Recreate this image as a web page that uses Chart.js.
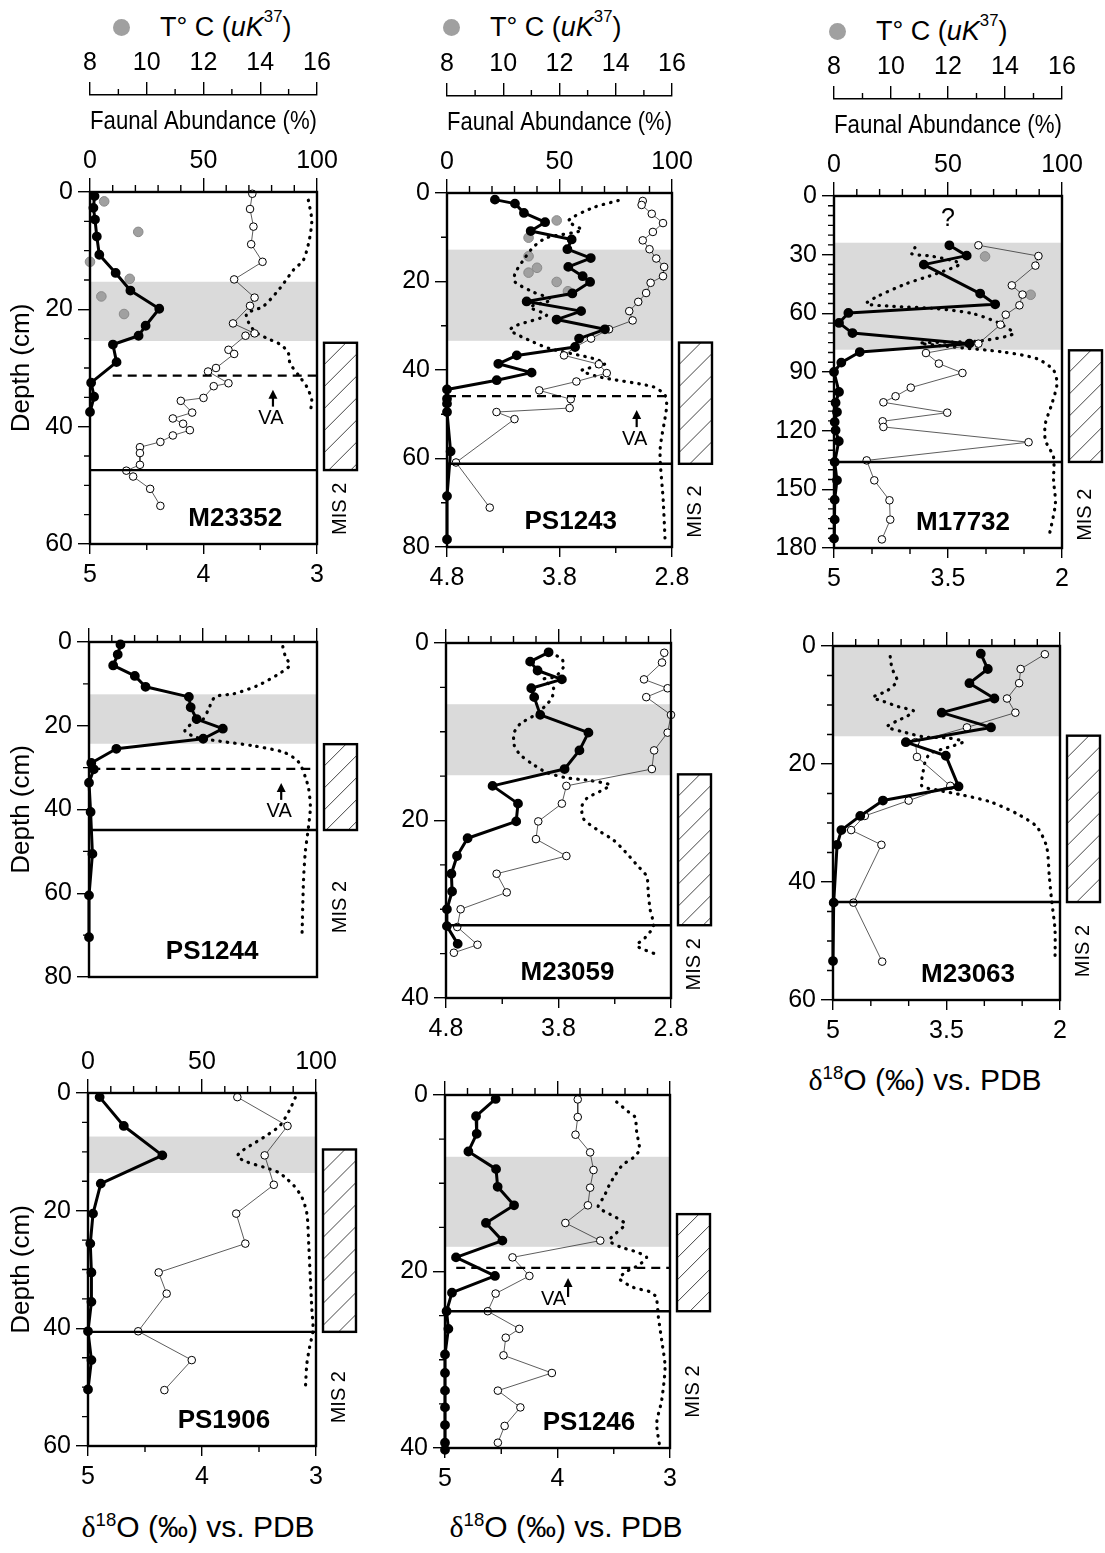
<!DOCTYPE html>
<html>
<head>
<meta charset="utf-8">
<title>Core profiles</title>
<script src="https://cdn.jsdelivr.net/npm/chart.js@4.4.0/dist/chart.umd.min.js"></script>
<style>
  body { margin: 0; background: #fff; }
  #page { position: relative; width: 1105px; height: 1553px; overflow: hidden;
          font-family: 'Liberation Sans', Arial, sans-serif; color: #000; }
  #page canvas { position: absolute; }
  .key { position: absolute; display: flex; align-items: center; height: 30px;
         font-size: 27px; white-space: nowrap; }
  .key .dot { width: 17px; height: 17px; border-radius: 50%; background: #a0a0a0;
              margin-right: 30px; flex: none; }
  .iso { position: absolute; transform: translate(-50%, -50%); font-size: 30px; white-space: nowrap; }
  .sup { font-size: 62%; position: relative; top: -0.6em; }
  .delta { font-family: 'Liberation Serif', serif; }
</style>
</head>
<body>
<div id="page">
  <div class="key" style="left:113px; top:12px"><span class="dot"></span>T° C (<i>uK</i><span class="sup">37</span>)</div>
  <div class="key" style="left:443px; top:12px"><span class="dot"></span>T° C (<i>uK</i><span class="sup">37</span>)</div>
  <div class="key" style="left:829px; top:16px"><span class="dot"></span>T° C (<i>uK</i><span class="sup">37</span>)</div>
  <div class="iso" style="left:925px; top:1080px"><span class="delta">δ</span><span class="sup">18</span>O (‰) vs. PDB</div>
  <div class="iso" style="left:198px; top:1527px"><span class="delta">δ</span><span class="sup">18</span>O (‰) vs. PDB</div>
  <div class="iso" style="left:566px; top:1527px"><span class="delta">δ</span><span class="sup">18</span>O (‰) vs. PDB</div>
</div>
<script>
// ---- cores and axes ----
const coreNames = ['M23352', 'PS1243', 'M17732', 'PS1244', 'M23059', 'M23063', 'PS1906', 'PS1246'];
const depthMax = [60, 80, 180, 80, 40, 60, 60, 40];
const depthTicks = [
  [0, 20, 40, 60], [0, 20, 40, 60, 80], [0, 30, 60, 90, 120, 150, 180], [0, 20, 40, 60, 80],
  [0, 20, 40], [0, 20, 40, 60], [0, 20, 40, 60], [0, 20, 40]
];
const depthMinor = [5, 10, 5, 10, 5, 5, 5, 5];
const isoRange = [[3, 5], [2.8, 4.8], [2, 5], [3, 5], [2.8, 4.8], [2, 5], [3, 5], [3, 5]];
const isoTicks = [
  ['5', '4', '3'], ['4.8', '3.8', '2.8'], ['5', '3.5', '2'], null,
  ['4.8', '3.8', '2.8'], ['5', '3.5', '2'], ['5', '4', '3'], ['5', '4', '3']
];
const abundTicks = [0, 50, 100];
const tempTicks = [8, 10, 12, 14, 16];

// depth (cm) of the grey interval, the MIS 2 box and the VA level
const shadeTop = [15.3, 12.8, 23.9, 12.5, 6.9, 0, 7.4, 7.0];
const shadeBase = [25.4, 33.4, 78.6, 24.3, 14.9, 15.3, 13.6, 17.2];
const misTop = [25.7, 33.8, 78.9, 24.4, 14.8, 15.2, 9.6, 13.5];
const misBase = [47.4, 61.2, 136, 44.9, 31.8, 43.4, 40.6, 24.5];
const misLabelDepth = [54, 72, 163, 63.3, 36.2, 51.7, 51.7, 33.6];
const vaDepth = [31.3, 45.9, null, 30.3, null, null, null, 19.6];
const vaFrom = [10, 0, null, 1, null, null, null, 5];        // % where the VA line starts
const vaArrowAt = [80.6, 84.3, null, 84.3, null, null, null, 54.7];
const nameAt = [64, 55, 56.6, 54, 54, 59.5, 59.6, 64];      // % position of the core name
const questionAt = [null, null, [50, 11.6], null, null, null, null, null];

// ---- series: [value, depth cm] ----
// subpolar fauna (%), N. pachyderma sin. (%), d18O (permil), Uk37 SST (deg C)
const m23352Subpolar = [[2,0.7],[1.5,2.7],[2.2,4.7],[3,7.6],[4.1,10.7],[11.3,13.8],[17.8,16.8],[30.5,19.9],[24.5,22.8],[21.4,24.5],[10.1,26],[11.7,29],[0.5,32.5],[1.8,34.9],[0,37.5]];
const m23352Npsin = [[96.2,1.4],[97.7,4.8],[96.6,8.2],[94,11.6],[89.6,13.3],[83.7,16.4],[76.3,19.5],[69,20.7],[69.7,22.1],[72.7,23.8],[77.8,24.9],[84.4,26.1],[87.4,27.5],[88.1,29.2],[91.8,31.2],[95.5,33.2],[97.7,35.5],[96.9,37.7]];
const m23352Iso = [[3.57,0.3],[3.59,2.9],[3.56,5.9],[3.58,8.9],[3.48,11.9],[3.73,14.9],[3.55,18],[3.59,19.4],[3.74,22.4],[3.55,24.1],[3.63,24.5],[3.78,26.9],[3.73,27.6],[3.89,30],[3.96,30.6],[3.78,32.6],[3.91,33.1],[4.0,35.1],[4.2,35.6],[4.1,37.6],[4.27,38.6],[4.18,39.5],[4.12,40.6],[4.27,41.5],[4.38,42.6],[4.56,43.5],[4.56,44.5],[4.56,46.5],[4.68,47.5],[4.62,48.5],[4.47,50.6],[4.38,53.5]];
const m23352Temp = [[8.5,1.6],[9.7,6.8],[8.0,11.9],[9.4,14.8],[8.4,17.8],[9.2,20.8]];

const ps1243Subpolar = [[21.3,1.5],[30.2,2.4],[34.2,4.5],[43.6,6.6],[37.2,8.6],[55.4,10.5],[53.5,12.7],[63.9,14.7],[53.9,16.7],[60.3,18.8],[63.6,20.1],[55.7,22.7],[35.4,24.5],[59.6,26.7],[48.7,28.6],[70.2,30.8],[58.7,32.9],[56.9,34.8],[31,36.7],[22.8,38.6],[37.6,40.6],[22.1,42.3],[0,44.4],[0,46.5],[0,47.6],[0,49.5],[1.6,58.4],[0,68.5],[0,78.3]];
const ps1243Npsin = [[76.1,1.7],[65,3.3],[53.9,6.3],[59.9,8.4],[44.3,10.1],[38.4,12.2],[33.9,15.2],[30.2,18.2],[30.2,20.1],[38.4,22.4],[46.5,24.1],[36.9,25.8],[44.3,27.6],[31,29.9],[28,31],[38.4,33.7],[45.8,35.2],[65,37.4],[70.2,38.6],[59.9,40.1],[68,41.6],[91.7,43.8],[96.9,45.7],[97.6,48.4],[94.7,58.2],[96.1,69.5],[96.9,78.1]];
const ps1243Iso = [[3.06,1.8],[3.07,2.7],[2.98,4.7],[2.88,6.8],[2.97,8.8],[3.06,10.7],[3.0,12.7],[2.94,14.8],[2.87,16.7],[2.88,18.8],[2.99,20.3],[3.03,22.6],[3.1,24.6],[3.18,26.7],[3.15,28.8],[3.36,30.8],[3.52,32.9],[3.66,34.8],[3.76,36.7],[3.45,38.7],[3.38,40.7],[3.65,42.6],[3.98,44.6],[3.7,46.6],[3.71,48.6],[4.36,49.5],[4.2,51.1],[4.72,60.9],[4.42,71.1]];
const ps1243Temp = [[11.9,6.2],[10.9,10.1],[10.9,14.3],[11.2,16.9],[10.9,18],[11.9,20.1],[12.3,22.2]];

const m17732Subpolar = [[50.6,25.2],[58.2,30.5],[39.4,35.1],[64.1,49.9],[70.7,55.4],[6.3,59.8],[2.2,64.9],[8.1,70.1],[59.4,75.5],[11.3,79.8],[3.2,85.2],[0,90],[2.2,100.2],[0.7,105.7],[1.3,110.5],[0.3,115.6],[0.7,119.8],[2.1,125.4],[0.3,136],[1.3,145.4],[0.3,155.3],[0.3,165.5],[0,175.2]];
const m17732Npsin = [[35.5,26.4],[34,29.5],[43.5,30.9],[55.3,34.6],[45,39.7],[31.8,44.8],[18.6,51.6],[14.2,55.1],[26,56.4],[45,57.6],[61.1,60.2],[72.9,65.3],[78.7,70.4],[64.1,74.1],[37.7,75.2],[52.3,77.2],[74.3,79.8],[89,83.2],[96.3,89.1],[97.8,96],[95.6,106.2],[92.7,116.4],[92.7,124.9],[96.3,133.5],[96.3,145.4],[97.1,157.3],[94.1,175.2]];
const m17732Iso = [[3.1,25.2],[2.31,30.7],[2.35,35.6],[2.66,45.7],[2.52,50.4],[2.56,55.9],[2.74,60.7],[2.81,65.8],[3.1,75.5],[3.79,80.3],[3.62,85.7],[3.31,90.5],[3.99,98],[4.19,102.4],[4.35,105.5],[3.51,110.8],[4.36,115.2],[4.35,118.1],[2.44,125.9],[4.57,135.2],[4.47,145.4],[4.27,155.6],[4.26,165.5],[4.37,175.6]];
const m17732Temp = [[13.3,30.9],[14.9,50.5]];

const ps1244Subpolar = [[13.8,0.6],[12.6,3],[10.6,5.6],[20.1,8.1],[24.8,10.7],[43.8,13.1],[44.6,15.6],[47.2,18.4],[58.7,20.7],[50.1,23.1],[12,25.5],[1,28.9],[2.1,30.4],[0,33.6],[0.7,40.6],[1.5,50.6],[0,60.5],[0,70.5]];
const ps1244Npsin = [[85,1.1],[86.1,3.4],[88,5.6],[82.4,7.9],[73.6,10.5],[63.3,12.4],[55.3,13.1],[52.3,16.2],[50.1,18.4],[43.5,20.1],[42.1,21.3],[47.2,22.8],[57.5,23.7],[72.1,24.8],[85.3,26.3],[91.2,28.2],[93.4,30.1],[94.9,32.3],[96.3,34.9],[97.1,39.4],[96.3,44],[94.9,50],[94.1,56.7],[93.4,70.6]];

const m23059Subpolar = [[45.6,1.05],[37.4,2.1],[40.7,3.1],[51.5,4.1],[37.9,5.1],[39.2,6.1],[41.9,8.1],[63.3,10.1],[59.3,12.1],[52.7,14.2],[20.7,16.1],[32,18.1],[31.2,20.1],[9.6,22],[4.9,24],[2.4,26],[2.7,28],[0.4,30],[0.4,31.9],[5.2,33.9]];
const m23059Npsin = [[46.3,1.1],[51.5,1.8],[52.2,2.7],[48.5,3.8],[43.3,4.1],[47.8,5.1],[47,6.2],[44.1,7.1],[38.9,8.2],[33,9.1],[30.3,10.1],[30.3,11.5],[33,12.6],[38.2,13.6],[44.8,14.6],[53.7,15.2],[64.1,15.5],[72.9,16],[68.5,16.7],[62.6,17.5],[60.4,18.4],[61.1,19.8],[67,21],[74.4,22.2],[79.6,23.5],[84.8,25],[89.2,26.3],[89.9,28.2],[90.7,30],[92.2,31.9],[88.5,33.2],[84.8,34.1],[93.6,35.1]];
const m23059Iso = [[2.86,1.1],[2.88,2.2],[3.04,4.1],[2.83,5.1],[3.02,6.1],[2.8,8.1],[2.83,10.1],[2.95,12.1],[2.97,14.2],[3.73,16.1],[3.77,18.1],[3.98,20.1],[4.0,22.1],[3.73,24],[4.35,26],[4.26,28.1],[4.67,30],[4.7,32],[4.52,34],[4.73,34.9]];

const m23063Subpolar = [[65.1,1.3],[68.2,3.9],[60.1,6.3],[71.1,8.9],[47.9,11.3],[69.6,13.8],[32.1,16.3],[49.7,18.6],[55.3,23.8],[22,26.2],[12,28.8],[3.7,31.2],[1.8,33.7],[0.3,43.5],[0,53.4]];
const m23063Npsin = [[25.2,1.8],[26,3.8],[28.2,5.9],[23.8,7.6],[17.6,8.7],[22.3,9.4],[28.9,10.3],[35.5,11],[32.6,11.9],[28.2,12.7],[23.8,13.7],[30.4,14.5],[39.9,15.4],[50.9,15.6],[57.5,16.2],[53.1,16.9],[47.9,17.5],[42.8,18.2],[40.6,19.6],[39.6,21.6],[39.1,23.7],[45.7,24.4],[57.5,25.3],[69.2,26.4],[80.9,28.4],[89.7,30.6],[94.1,34],[95.3,39.1],[96.3,43.1],[97.8,48.1],[97.8,53.5]];
const m23063Iso = [[2.2,1.4],[2.52,3.9],[2.54,6.3],[2.7,8.9],[2.59,11.3],[3.23,13.8],[3.91,16.3],[3.89,18.8],[3.45,23.7],[4.0,26.2],[4.58,28.8],[4.76,31.2],[4.36,33.7],[4.73,43.5],[4.35,53.5]];

const ps1906Subpolar = [[5.1,0.7],[15.7,5.6],[32.6,10.6],[5.6,15.4],[2.2,20.5],[1,25.6],[1.5,30.5],[1.5,35.5],[0,40.5],[1.5,45.4],[0,50.4]];
const ps1906Npsin = [[90.9,0.8],[88.4,2.9],[84.3,5.5],[78.4,7.2],[72.6,8.6],[67,10],[65.5,10.8],[69.6,11.7],[77,12.6],[83.6,13.5],[87.2,14.6],[90.2,15.7],[93.8,17.7],[96,20.5],[96.8,25.6],[97.5,31.3],[98.2,36.9],[98.7,40.3],[97.2,43.2],[96,46],[95.3,50.5]];
const ps1906Iso = [[3.69,0.7],[3.25,5.6],[3.45,10.6],[3.37,15.6],[3.7,20.5],[3.62,25.6],[4.38,30.5],[4.31,34.1],[4.56,40.5],[4.09,45.4],[4.33,50.5]];

const ps1246Subpolar = [[22.5,0.45],[13.8,2.4],[14.1,4.4],[10.4,6.4],[22.7,8.4],[23.4,10.4],[30.7,12.5],[18.2,14.5],[25.5,16.5],[4.9,18.4],[22.2,20.5],[3.1,22.4],[0.7,24.5],[1.5,26.5],[0,29.4],[0,31.5],[0,33.5],[0,35.4],[0,37.4],[0,39.4],[0,40.2]];
const ps1246Npsin = [[76.3,0.8],[81.5,1.9],[84.4,2.5],[85.2,4.2],[86.4,6.2],[83.7,7.1],[79,7.9],[75.6,9.1],[73,10.2],[70.7,11.5],[68.1,12.7],[73.3,13.5],[80,14.6],[76.3,15.6],[73,16.5],[77.8,17.2],[85.2,17.8],[89.6,18.4],[85.9,19.3],[80.7,20],[77.5,20.8],[83.7,21.8],[91.1,22.3],[93.8,22.9],[94.8,25.1],[96.3,27.8],[97.8,30.8],[96.3,34.6],[94.1,37.2],[95.6,40.1]];
const ps1246Iso = [[3.82,0.5],[3.82,2.5],[3.84,4.5],[3.71,6.5],[3.68,8.5],[3.71,10.5],[3.73,12.5],[3.93,14.5],[3.62,16.5],[4.4,18.4],[4.25,20.5],[4.55,22.5],[4.62,24.5],[4.34,26.5],[4.46,27.5],[4.48,29.5],[4.05,31.5],[4.53,33.5],[4.33,35.4],[4.47,37.5],[4.53,39.4]];

// frame box [left, top, right, bottom] of each plot on the page
const panels = [
  { frame: [90, 192, 317, 544],   col: 0, top: 'full',   bottom: true,  sub: m23352Subpolar, nps: m23352Npsin, iso: m23352Iso, temp: m23352Temp },
  { frame: [447, 193, 672, 547],  col: 1, top: 'full',   bottom: true,  sub: ps1243Subpolar, nps: ps1243Npsin, iso: ps1243Iso, temp: ps1243Temp },
  { frame: [834, 196, 1062, 548], col: 2, top: 'full',   bottom: true,  sub: m17732Subpolar, nps: m17732Npsin, iso: m17732Iso, temp: m17732Temp },
  { frame: [89, 642, 317, 997],   col: 0, top: 'ticks',  bottom: false, sub: ps1244Subpolar, nps: ps1244Npsin, iso: null, temp: null },
  { frame: [446, 643, 671, 998],  col: 1, top: 'ticks',  bottom: true,  sub: m23059Subpolar, nps: m23059Npsin, iso: m23059Iso, temp: null },
  { frame: [833, 646, 1060, 1000], col: 2, top: 'ticks', bottom: true,  sub: m23063Subpolar, nps: m23063Npsin, iso: m23063Iso, temp: null },
  { frame: [88, 1093, 316, 1446], col: 0, top: 'labels', bottom: true,  sub: ps1906Subpolar, nps: ps1906Npsin, iso: ps1906Iso, temp: null },
  { frame: [445, 1095, 670, 1448], col: 1, top: 'ticks', bottom: true,  sub: ps1246Subpolar, nps: ps1246Npsin, iso: ps1246Iso, temp: null }
];

Chart.defaults.font.family = "'Liberation Sans', Arial, sans-serif";
Chart.defaults.color = '#000';

const pts = arr => arr.map(([v, d]) => ({ x: v, y: d }));

function arrowUp(ctx, x, tip, end) {
  ctx.beginPath();
  ctx.moveTo(x, end); ctx.lineTo(x, tip + 6);
  ctx.lineWidth = 2.2; ctx.stroke();
  ctx.beginPath();
  ctx.moveTo(x, tip); ctx.lineTo(x - 4.5, tip + 9); ctx.lineTo(x + 4.5, tip + 9);
  ctx.closePath(); ctx.fill();
}

// shading, frame, boundaries, MIS 2 box and labels
const decor = {
  id: 'decor',
  beforeDatasetsDraw(chart, args, o) {
    const i = o.core;
    const { ctx, chartArea: a } = chart;
    const y = chart.scales.y;
    const y0 = y.getPixelForValue(shadeTop[i]), y1 = y.getPixelForValue(shadeBase[i]);
    ctx.save();
    ctx.fillStyle = '#dadada';
    ctx.fillRect(a.left, y0, a.right - a.left, y1 - y0);
    ctx.restore();
  },
  afterDatasetsDraw(chart, args, o) {
    const i = o.core;
    const { ctx, chartArea: a, scales } = chart;
    const y = scales.y, x2 = scales.x2;
    ctx.save();
    ctx.strokeStyle = '#000';
    ctx.fillStyle = '#000';

    // minor ticks
    ctx.lineWidth = 1.4;
    ctx.beginPath();
    for (let d = 0; d <= depthMax[i]; d += depthMinor[i]) {
      if (depthTicks[i].includes(d)) continue;
      const py = y.getPixelForValue(d);
      ctx.moveTo(a.left - 6, py); ctx.lineTo(a.left, py);
    }
    for (let v = 10; v < 100; v += 10) {
      if (abundTicks.includes(v)) continue;
      const px = x2.getPixelForValue(v);
      ctx.moveTo(px, a.top - 7); ctx.lineTo(px, a.top);
    }
    if (isoTicks[i] && scales.x.options.display) {
      const [lo, hi] = isoRange[i];
      const labelled = isoTicks[i].map(parseFloat);
      for (let k = 0; k <= Math.round((hi - lo) * 2); k++) {
        const v = lo + k * 0.5;
        if (labelled.some(t => Math.abs(t - v) < 1e-6)) continue;
        const px = scales.x.getPixelForValue(v);
        ctx.moveTo(px, a.bottom); ctx.lineTo(px, a.bottom + 6);
      }
    }
    if (scales.x3) {
      const b = scales.x3.bottom;
      for (let t = 9; t < 16; t += 2) {
        const px = scales.x3.getPixelForValue(t);
        ctx.moveTo(px, b - 6); ctx.lineTo(px, b);
      }
    }
    ctx.stroke();

    // plot frame
    ctx.lineWidth = 2.4;
    ctx.strokeRect(a.left, a.top, a.right - a.left, a.bottom - a.top);

    // base of MIS 2
    const yb = y.getPixelForValue(misBase[i]);
    ctx.beginPath();
    ctx.moveTo(a.left, yb); ctx.lineTo(a.right, yb);
    ctx.stroke();

    // VA level
    if (vaDepth[i] !== null) {
      const yv = y.getPixelForValue(vaDepth[i]);
      ctx.save();
      ctx.setLineDash([9, 6]);
      ctx.lineWidth = 2.2;
      ctx.beginPath();
      ctx.moveTo(x2.getPixelForValue(vaFrom[i]), yv); ctx.lineTo(a.right, yv);
      ctx.stroke();
      ctx.restore();
      const ax = x2.getPixelForValue(vaArrowAt[i]);
      ctx.font = "20px 'Liberation Sans', Arial, sans-serif";
      ctx.textBaseline = 'middle';
      if (i === 7) {
        arrowUp(ctx, ax, yv + 10, yv + 29);
        ctx.textAlign = 'right';
        ctx.fillText('VA', ax - 2, yv + 32);
      } else {
        arrowUp(ctx, ax, yv + 14, yv + 31);
        ctx.textAlign = 'center';
        ctx.fillText('VA', ax - 2, yv + 43);
      }
    }

    // MIS 2 box with hatching
    const bx = a.right + 7, bw = 33;
    const byTop = y.getPixelForValue(misTop[i]), byBot = y.getPixelForValue(misBase[i]);
    ctx.save();
    ctx.beginPath();
    ctx.rect(bx, byTop, bw, byBot - byTop);
    ctx.clip();
    ctx.lineWidth = 1;
    ctx.strokeStyle = '#444';
    ctx.beginPath();
    for (let s = byTop - bw; s < byBot + bw; s += 22) {
      ctx.moveTo(bx, s + bw); ctx.lineTo(bx + bw, s);
    }
    ctx.stroke();
    ctx.restore();
    ctx.lineWidth = 2.4;
    ctx.strokeRect(bx, byTop, bw, byBot - byTop);

    ctx.save();
    ctx.translate(bx + bw / 2, y.getPixelForValue(misLabelDepth[i]));
    ctx.rotate(-Math.PI / 2);
    ctx.font = "20px 'Liberation Sans', Arial, sans-serif";
    ctx.textAlign = 'center';
    ctx.textBaseline = 'middle';
    ctx.fillText('MIS 2', 0, 0);
    ctx.restore();

    // core name
    ctx.font = "bold 26px 'Liberation Sans', Arial, sans-serif";
    ctx.textAlign = 'center';
    ctx.textBaseline = 'middle';
    ctx.fillText(coreNames[i], x2.getPixelForValue(nameAt[i]), a.bottom - 25);

    if (questionAt[i]) {
      ctx.font = "25px 'Liberation Sans', Arial, sans-serif";
      ctx.fillText('?', x2.getPixelForValue(questionAt[i][0]), y.getPixelForValue(questionAt[i][1]));
    }
    ctx.restore();
  }
};

const page = document.getElementById('page');

panels.forEach((p, i) => {
  const [L, T, R, B] = p.frame;
  const yW = p.col === 0 ? L : 75;
  const topH = p.top === 'full' ? T : (p.top === 'labels' ? 60 : 20);
  const botH = p.bottom ? 60 : 20;
  const w = yW + (R - L) + 43, h = topH + (B - T) + botH;

  const cv = document.createElement('canvas');
  cv.width = w; cv.height = h;
  cv.style.left = (L - yW) + 'px';
  cv.style.top = (T - topH) + 'px';
  cv.style.width = w + 'px';
  cv.style.height = h + 'px';
  page.appendChild(cv);

  const tickGrid = len => ({ drawOnChartArea: false, drawTicks: true, tickLength: len, color: '#000', lineWidth: 1.4 });

  const scales = {
    y: {
      type: 'linear', reverse: true, min: 0, max: depthMax[i],
      afterBuildTicks: s => { s.ticks = depthTicks[i].map(v => ({ value: v })); },
      afterFit: s => { s.width = yW; },
      ticks: { font: { size: 25 }, padding: 5, autoSkip: false },
      grid: tickGrid(12),
      border: { display: false },
      title: { display: p.col === 0, text: 'Depth (cm)', font: { size: 26 }, padding: { top: 6, bottom: 0 } }
    },
    x: {
      type: 'linear', position: 'bottom', reverse: true,
      min: isoRange[i][0], max: isoRange[i][1],
      display: !!(p.bottom && isoTicks[i]),
      afterBuildTicks: s => { if (isoTicks[i]) s.ticks = isoTicks[i].map(t => ({ value: parseFloat(t) })); },
      afterFit: s => { s.height = botH; },
      ticks: { font: { size: 25 }, padding: 6, maxRotation: 0, autoSkip: false,
               callback: (v, k) => isoTicks[i] ? isoTicks[i][k] : '' },
      grid: tickGrid(10),
      border: { display: false }
    },
    x2: {
      type: 'linear', position: 'top', min: 0, max: 100, weight: 0,
      afterBuildTicks: s => { s.ticks = abundTicks.map(v => ({ value: v })); },
      afterFit: s => { s.height = p.top === 'full' ? 97 : topH; },
      ticks: { display: p.top !== 'ticks', font: { size: 25 }, padding: 2, maxRotation: 0, autoSkip: false },
      grid: tickGrid(14),
      border: { display: false },
      title: { display: p.top === 'full', text: 'Faunal Abundance (%)', font: { size: 26 }, padding: { top: 11, bottom: 0 } }
    }
  };
  if (p.top === 'full') {
    scales.x3 = {
      type: 'linear', position: 'top', min: 8, max: 16, weight: 1,
      afterBuildTicks: s => { s.ticks = tempTicks.map(v => ({ value: v })); },
      afterFit: s => { s.height = topH - 97; },
      ticks: { font: { size: 25 }, padding: 4, maxRotation: 0, autoSkip: false },
      grid: tickGrid(13),
      border: { display: true, color: '#000', width: 1.4 }
    };
  }

  const datasets = [
    { data: pts(p.sub), xAxisID: 'x2', yAxisID: 'y', showLine: true, borderColor: '#000', borderWidth: 3,
      borderJoinStyle: 'round', pointRadius: 3.4, pointBackgroundColor: '#000', pointBorderColor: '#000', clip: false }
  ];
  if (p.iso) {
    datasets.push({ data: pts(p.iso), xAxisID: 'x', yAxisID: 'y', showLine: true, borderColor: '#333', borderWidth: 0.8,
      pointRadius: 3.8, pointBackgroundColor: '#fff', pointBorderColor: '#000', pointBorderWidth: 1, clip: false });
  }
  datasets.push({ data: pts(p.nps), xAxisID: 'x2', yAxisID: 'y', showLine: true, borderColor: '#000', borderWidth: 3.2,
    borderDash: [0.5, 7], borderCapStyle: 'round', tension: 0.25, pointRadius: 0, clip: false });
  if (p.temp) {
    datasets.push({ data: pts(p.temp), xAxisID: 'x3', yAxisID: 'y', showLine: false,
      pointRadius: 4.8, pointBackgroundColor: '#a0a0a0', pointBorderColor: '#8a8a8a', pointBorderWidth: 1, clip: false });
  }

  new Chart(cv, {
    type: 'scatter',
    data: { datasets },
    options: {
      responsive: false,
      maintainAspectRatio: false,
      animation: false,
      devicePixelRatio: 1,
      layout: { padding: { left: 0, right: 43, top: 0, bottom: p.bottom && isoTicks[i] ? 0 : botH } },
      scales,
      plugins: { legend: { display: false }, tooltip: { enabled: false }, decor: { core: i } }
    },
    plugins: [decor]
  });
});
</script>
</body>
</html>
